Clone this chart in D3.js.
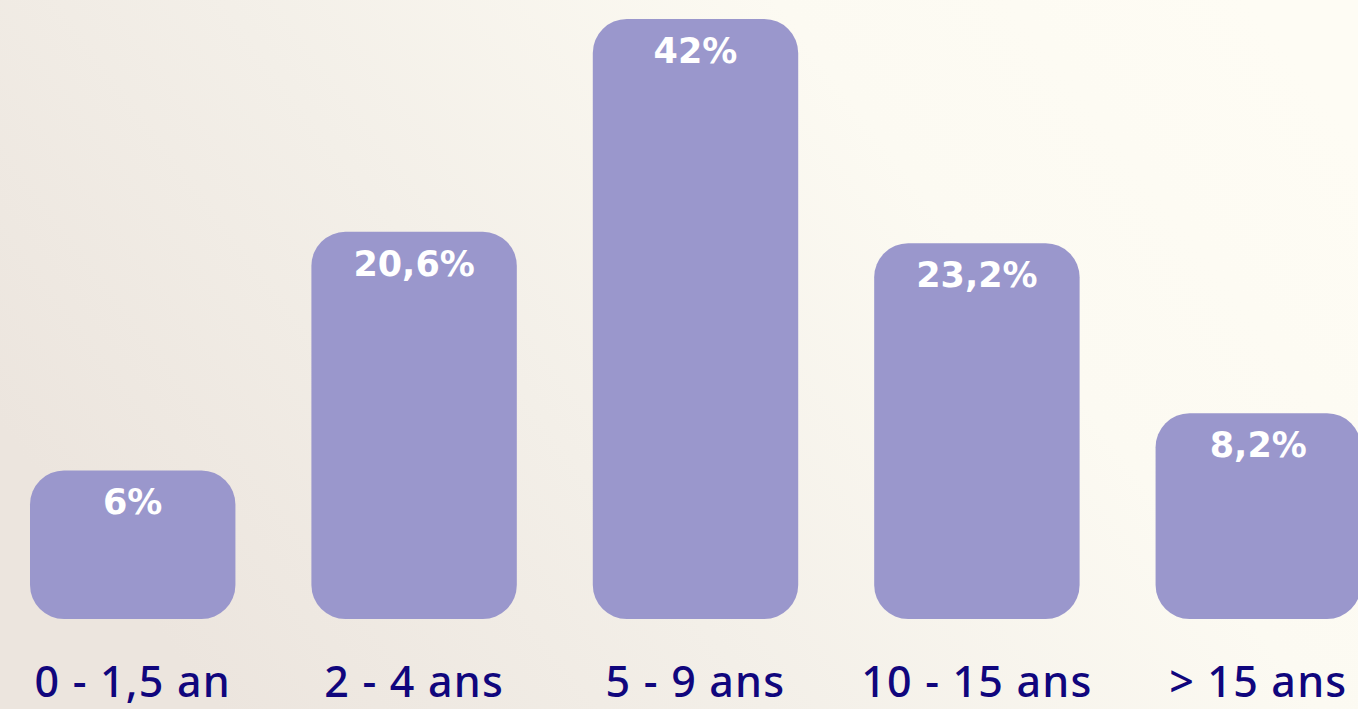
<!DOCTYPE html>
<html>
<head>
<meta charset="utf-8">
<script src="https://cdn.jsdelivr.net/npm/d3@7"></script>
<style>
  html, body { margin: 0; padding: 0; overflow: hidden; }
  svg { display: block; }
</style>
</head>
<body>
<div id="chart"></div>
<script>
// categories and printed percentages
var categories = ["0 - 1,5 an", "2 - 4 ans", "5 - 9 ans", "10 - 15 ans", "> 15 ans"];
var valueLabels = ["6%", "20,6%", "42%", "23,2%", "8,2%"];
// the drawn bars are not proportional to the printed values,
// so these are the bar levels (same 0-42 scale)
var barLevels = [10.4, 27.1, 42, 26.3, 14.4];

var width = 1358,
    height = 709;

var margin = { top: 19, right: -3, bottom: 90, left: 30 };

var x = d3.scaleBand()
    .domain(categories)
    .range([margin.left, width - margin.right])
    .paddingInner(0.27)
    .paddingOuter(0);

var y = d3.scaleLinear()
    .domain([0, 42])
    .range([height - margin.bottom, margin.top]);

var svg = d3.select("#chart").append("svg")
    .attr("width", width)
    .attr("height", height);

var defs = svg.append("defs");
var grad = defs.append("linearGradient")
    .attr("id", "bg")
    .attr("x1", "0%").attr("y1", "60%")
    .attr("x2", "100%").attr("y2", "20%");
grad.append("stop").attr("offset", "0%").attr("stop-color", "#ece5de");
grad.append("stop").attr("offset", "35%").attr("stop-color", "#f3efe8");
grad.append("stop").attr("offset", "70%").attr("stop-color", "#fcfaf2");
grad.append("stop").attr("offset", "100%").attr("stop-color", "#fefcf4");

svg.append("rect")
    .attr("width", width)
    .attr("height", height)
    .attr("fill", "url(#bg)");

var bars = svg.append("g").selectAll("g")
    .data(categories)
    .enter().append("g");

bars.append("rect")
    .attr("x", function(d) { return x(d); })
    .attr("y", function(d, i) { return y(barLevels[i]); })
    .attr("width", x.bandwidth())
    .attr("height", function(d, i) { return y(0) - y(barLevels[i]); })
    .attr("rx", 34)
    .attr("ry", 34)
    .attr("fill", "#9a97cc");

// value labels, near the top of each bar
bars.append("text")
    .attr("x", function(d) { return x(d) + x.bandwidth() / 2; })
    .attr("y", function(d, i) { return y(barLevels[i]) + 44; })
    .attr("text-anchor", "middle")
    .attr("fill", "#ffffff")
    .style("font-family", "'DejaVu Sans', sans-serif")
    .style("font-weight", 700)
    .style("font-size", "35px")
    .text(function(d, i) { return valueLabels[i]; });

// category labels under the bars
bars.append("text")
    .attr("x", function(d) { return x(d) + x.bandwidth() / 2; })
    .attr("y", 697)
    .attr("text-anchor", "middle")
    .attr("fill", "#10067d")
    .style("font-family", "'Noto Sans', sans-serif")
    .style("font-weight", 500)
    .style("font-size", "43px")
    .style("letter-spacing", "1.2px")
    .text(function(d) { return d; });
</script>
</body>
</html>
